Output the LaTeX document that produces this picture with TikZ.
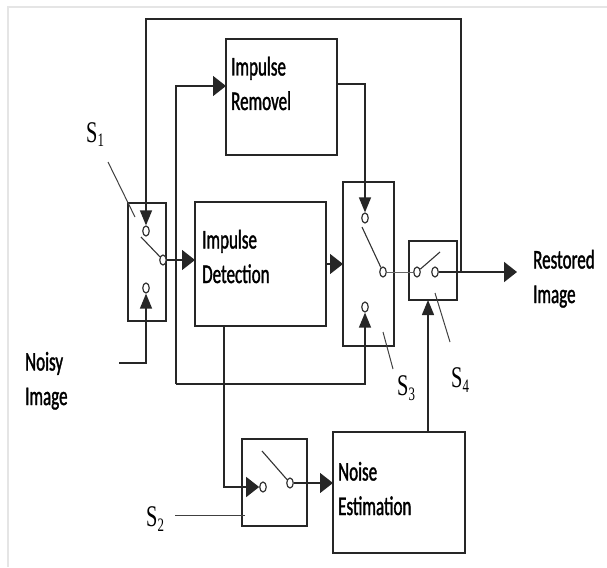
\documentclass[tikz,border=0pt]{standalone}
\usepackage{fontspec}
\setmainfont{Carlito}
\newfontfamily\lblfont[FakeStretch=0.63,FakeBold=1.3]{Carlito}
\newfontfamily\swfont[FakeStretch=0.68]{Liberation Serif}
\usetikzlibrary{arrows.meta,shapes.geometric}

\newcommand{\swname}[1]{{\swfont\fontsize{30}{30}\selectfont S\raisebox{-5pt}{\fontsize{19}{19}\selectfont #1}}}

\tikzset{
  blk/.style={draw=black!85, line width=1.4pt, anchor=north west, inner sep=0pt, outer sep=0pt},
  lbl/.style={font=\lblfont\fontsize{27}{34.5}\selectfont, align=left, anchor=base west, inner sep=0pt},
  contact/.style={ellipse, draw=black!80, line width=1.2pt, minimum width=6.5pt, minimum height=10pt, inner sep=0pt, fill=white},
  wire/.style={draw=black!85, line width=1.4pt},
  htip/.style={-{Triangle[length=13pt,width=20pt]}},
  vtip/.style={-{Triangle[length=15pt,width=12pt]}},
  blade/.style={draw=black!80, line width=1.1pt},
  leader/.style={draw=black!75, line width=1pt},
  swtag/.style={anchor=base west, inner sep=0pt},
}

\begin{document}
\begin{tikzpicture}[x=1pt,y=-1pt]
  \useasboundingbox (0,0) rectangle (607,567);
  \draw[gray!20, line width=2pt] (8,567) -- (8,7) -- (607,7);

  % blocks and switch boxes
  \node[blk, minimum width=111pt, minimum height=116pt] (rem) at (226,39) {};
  \node[blk, minimum width=131pt, minimum height=124pt] (det) at (195,202) {};
  \node[blk, minimum width=132pt, minimum height=121pt] (est) at (333,432) {};
  \node[blk, minimum width=38pt, minimum height=118pt] (s1) at (128,203) {};
  \node[blk, minimum width=65pt, minimum height=87pt] (s2) at (242,439) {};
  \node[blk, minimum width=51pt, minimum height=164pt] (s3) at (343,182) {};
  \node[blk, minimum width=48pt, minimum height=59pt] (s4) at (409,241) {};

  % base anchor sits on the last line
  \node[lbl] (remtxt) at (231,110) {Impulse\\Removel};
  \node[lbl] (dettxt) at (202,283) {Impulse\\Detection};
  \node[lbl] (esttxt) at (338,515) {Noise\\Estimation};
  \node[lbl] (outtxt) at (533,303) {Restored\\Image};
  \node[lbl] (intxt) at (25,405) {Noisy\\Image};

  % switch contacts
  \node[contact] (s1a) at (146,231) {};\node[contact] (s1b) at (146,288) {};\node[contact] (s1c) at (163,260) {};
  \node[contact] (s2a) at (263,487) {};\node[contact] (s2b) at (290,483) {};
  \node[contact] (s3a) at (365,218) {};\node[contact] (s3b) at (365,307) {};\node[contact] (s3c) at (383,272) {};
  \node[contact] (s4a) at (417,272) {};\node[contact] (s4b) at (435,272) {};

  \coordinate (s1k) at (141,237);\coordinate (s2k) at (262,451);
  \coordinate (s3k) at (362,227);\coordinate (s4k) at (440,252);
  \draw[blade] (s1k) -- (s1c);\draw[blade] (s2k) -- (s2b);
  \draw[blade] (s3k) -- (s3c);\draw[blade] (s4a) -- (s4k);

  % switch names
  \node[swtag] (s1tag) at (86,142) {\swname{1}};
  \node[swtag] (s2tag) at (146,526) {\swname{2}};
  \node[swtag] (s3tag) at (397,395) {\swname{3}};
  \node[swtag] (s4tag) at (451,387) {\swname{4}};
  \coordinate (l1a) at (108,162);\coordinate (l1b) at (135,217);
  \coordinate (l2a) at (175,515);\coordinate (l2b) at (245,515);
  \coordinate (l3a) at (383,332);\coordinate (l3b) at (393,369);
  \coordinate (l4a) at (435,293);\coordinate (l4b) at (450,342);
  \draw[leader] (l1a) -- (l1b);\draw[leader] (l2a) -- (l2b);
  \draw[leader] (l3a) -- (l3b);\draw[leader] (l4a) -- (l4b);

  % signal paths
  \coordinate (fb) at (461,272);\coordinate (fbtop) at (461,19);
  \coordinate (outtip) at (517,272);
  \coordinate (noisyin) at (119,363);
  \coordinate (loop) at (176,384);
  \coordinate (detout) at ([xshift=29pt]det.south west);
  \coordinate (estout) at ([xshift=95pt]est.north west);

  \draw[wire,vtip] (fb) -- (fbtop) -| (s1a);
  \draw[wire,vtip] (noisyin) -| (s1b);
  \draw[wire,htip] (s1c) -- (s1c -| det.west);
  \draw[wire,htip] (loop) |- ([yshift=-47pt]rem.north west);
  \draw[wire,vtip] (loop) -| (s3b);
  \draw[wire,vtip] ([yshift=-45pt]rem.north east) -| (s3a);
  \draw[wire,htip] (det.east) -- (det.east -| s3.west);
  \draw[wire,htip] (detout) |- (s2a);
  \draw[wire,htip] (s2b) -- (s2b -| est.west);
  \draw[wire,vtip] (estout) -- (estout |- s4.south);
  \draw[wire, line width=0.9pt, black!60] (s3c) -- (s4a);
  \draw[wire, line width=2pt, htip] (s4b) -- (outtip);
\end{tikzpicture}
\end{document}
